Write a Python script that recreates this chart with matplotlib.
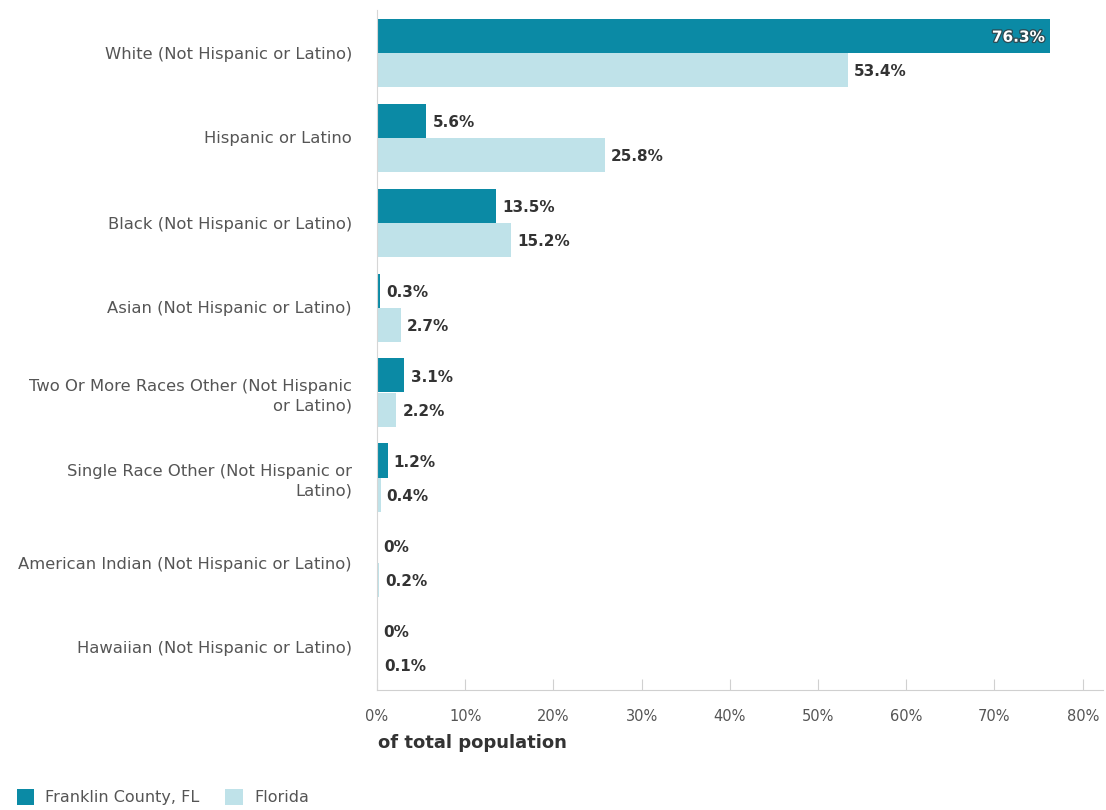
import matplotlib
matplotlib.use("Agg")
import matplotlib.pyplot as plt
import matplotlib.patheffects as pe
from matplotlib.patches import Patch
import numpy as np

categories = [
    "White (Not Hispanic or Latino)",
    "Hispanic or Latino",
    "Black (Not Hispanic or Latino)",
    "Asian (Not Hispanic or Latino)",
    "Two Or More Races Other (Not Hispanic\nor Latino)",
    "Single Race Other (Not Hispanic or\nLatino)",
    "American Indian (Not Hispanic or Latino)",
    "Hawaiian (Not Hispanic or Latino)",
]
franklin = [76.3, 5.6, 13.5, 0.3, 3.1, 1.2, 0.0, 0.0]
florida = [53.4, 25.8, 15.2, 2.7, 2.2, 0.4, 0.2, 0.1]
series_names = ["Franklin County, FL", "Florida"]
xticks = [0, 10, 20, 30, 40, 50, 60, 70, 80]

dark = "#0B8AA5"
light = "#BFE2E9"
label_grey = "#555555"
value_dark = "#333333"

plt.rcParams["font.family"] = ["DejaVu Sans"]

fig = plt.figure(figsize=(11.06, 8.10), dpi=100)
ax = fig.add_axes([377 / 1106, 1 - 690 / 810, 726 / 1106, 680 / 810])

y = np.arange(len(categories))
h = 0.4
ax.barh(y - h / 2, franklin, height=h, color=dark)
ax.barh(y + h / 2, florida, height=h, color=light)

def fmt(v):
    return f"{v:g}%"

for yi, v in zip(y, franklin):
    if v > 70:
        ax.text(v - 0.6, yi - h / 2 + 0.02, fmt(v), ha="right", va="center",
                fontsize=11, fontweight="bold", color="white",
                path_effects=[pe.withStroke(linewidth=1.8, foreground="#2c4a52")])
    else:
        ax.text(v + 0.7, yi - h / 2 + 0.02, fmt(v), ha="left", va="center",
                fontsize=11, fontweight="bold", color=value_dark)
for yi, v in zip(y, florida):
    ax.text(v + 0.7, yi + h / 2 + 0.02, fmt(v), ha="left", va="center",
            fontsize=11, fontweight="bold", color=value_dark)

ax.set_ylim(len(categories) - 0.5, -0.5)
ax.set_xlim(0, 82.3)
ax.set_yticks(y)
ax.set_yticklabels(categories, fontsize=11.8, color=label_grey, ha="right",
                   linespacing=1.35)
ax.tick_params(axis="y", length=0, pad=18)
ax.set_xticks(xticks)
ax.set_xticklabels([f"{t}%" for t in xticks], fontsize=10.5, color=label_grey)
ax.tick_params(axis="x", direction="in", length=8, color="#d0d0d0", pad=14)

for s in ["top", "right"]:
    ax.spines[s].set_visible(False)
ax.spines["left"].set_color("#d6d6d6")
ax.spines["bottom"].set_color("#d0d0d0")

fig.text(378 / 1106, 1 - 743 / 810, "of total population", fontsize=13,
         fontweight="bold", color="#333333", va="center", ha="left")

handles = [Patch(facecolor=dark), Patch(facecolor=light)]
fig.legend(handles, series_names, loc="lower left", bbox_to_anchor=(0.002, -0.012),
           ncol=2, frameon=False, fontsize=11.5, handlelength=1.1, handleheight=1.1,
           columnspacing=1.6, handletextpad=0.7, labelcolor=label_grey)

fig.savefig("out.png", dpi=100)
